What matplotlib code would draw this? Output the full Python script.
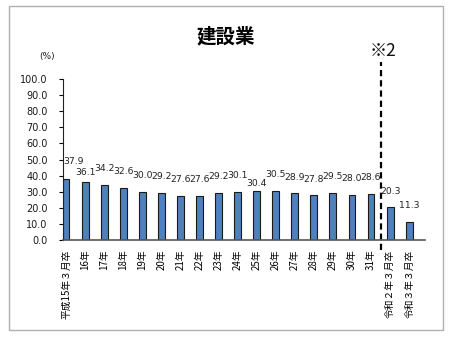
import matplotlib
matplotlib.use("Agg")
import matplotlib.pyplot as plt
from matplotlib.patches import Rectangle

plt.rcParams['font.family'] = ['DejaVu Sans', 'Noto Sans CJK JP']

categories = ['平成15年３月卒', '16年', '17年', '18年', '19年', '20年', '21年', '22年',
              '23年', '24年', '25年', '26年', '27年', '28年', '29年', '30年', '31年',
              '令和２年３月卒', '令和３年３月卒']
values = [37.9, 36.1, 34.2, 32.6, 30.0, 29.2, 27.6, 27.6, 29.2, 30.1, 30.4, 30.5,
          28.9, 27.8, 29.5, 28.0, 28.6, 20.3, 11.3]
yticks = [0, 10, 20, 30, 40, 50, 60, 70, 80, 90, 100]
title = '建設業'
note = '※2'

# label offsets in pixels (dx, dy) -- styling only
label_offsets = [(7, 17), (0, 9)] + [(0, 16)] * 8 + [(0, 8)] + [(0, 16)] * 8

fig = plt.figure(figsize=(4.5, 3.41), dpi=100)
W, H = 450, 341
fig.patches.append(Rectangle((9 / W, 1 - 330 / H), (443 - 9) / W, (330 - 6) / H,
                             transform=fig.transFigure, fill=False,
                             edgecolor='#b0b0b0', linewidth=1.0))

ax = fig.add_axes([63 / W, 1 - 240 / H, (425 - 63) / W, (240 - 79) / H])
x = list(range(len(categories)))
ax.bar(x, values, width=0.36, color='#4F81BD', edgecolor='#1a1a1a', linewidth=0.8)

for xi, v, (dx, dy) in zip(x, values, label_offsets):
    ax.annotate(f'{v:.1f}', (xi, v), xytext=(dx, dy), textcoords='offset pixels',
                ha='center', va='center', fontsize=6.7, color='#222222')

ax.set_xlim(-0.16, 18.83)
ax.set_ylim(0, 100)
ax.set_yticks(yticks)
ax.set_yticklabels([f'{t:.1f}' for t in yticks], fontsize=7, color='#1a1a1a')
ax.set_xticks(x)
ax.set_xticklabels(categories, rotation=90, fontsize=7,
                   family=['Noto Sans CJK JP', 'DejaVu Sans'], va='top', ha='center')
ax.tick_params(axis='x', length=0, pad=7)
ax.tick_params(axis='y', length=3, width=0.8, pad=8, direction='out')
for s in ['top', 'right']:
    ax.spines[s].set_visible(False)
ax.spines['left'].set_color('#222222')
ax.spines['bottom'].set_color('#555555')
ax.spines['bottom'].set_linewidth(1.2)

# dashed separator
ax.plot([16.5, 16.5], [-0.062, (240 - 62) / 161], transform=ax.get_xaxis_transform(),
        color='black', linestyle=(0, (2.8, 1.8)), linewidth=1.6, clip_on=False,
        solid_capstyle='butt', dash_capstyle='butt')

fig.text(226 / W, 1 - 37 / H, title, ha='center', va='center', fontsize=14,
         fontweight='bold', family=['Noto Sans CJK JP'])
fig.text(383 / W, 1 - 51 / H, note, ha='center', va='center', fontsize=12.5,
         color='#111111', family=['Noto Sans CJK JP'])
fig.text(47 / W, 1 - 57 / H, '(%)', ha='center', va='center', fontsize=6.5,
         color='#222222')

fig.savefig('out.png', dpi=100)
